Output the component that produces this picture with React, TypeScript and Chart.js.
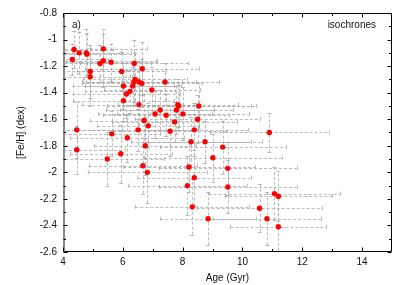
import React, { useEffect, useRef } from 'react';
import { Chart, registerables } from 'chart.js';
Chart.register(...registerables);

const ages = [
  4.37, 4.54, 4.78, 4.80, 4.31, 5.35, 5.24, 5.35, 5.61, 4.91, 4.91, 5.96, 6.38, 6.65,
  6.02, 6.37, 6.41, 6.54, 6.64, 6.33, 6.24, 6.12, 6.02, 6.54, 6.97, 7.41, 7.84, 7.87,
  7.25, 7.08, 7.45, 7.79, 8.01, 8.54, 8.50, 6.71, 6.85, 6.51, 7.58, 7.73, 8.39, 4.46,
  5.63, 6.15, 6.75, 8.28, 8.75, 9.34, 10.90, 4.46, 5.93, 5.48, 9.01, 6.67, 6.82, 8.21,
  9.51, 8.39, 8.16, 9.51, 8.32, 8.85, 10.57, 10.82, 11.07, 11.20, 11.20,
];
const feh = [
  -1.075, -1.10, -1.10, -1.11, -1.15, -1.07, -1.18, -1.16, -1.17, -1.24, -1.28, -1.24, -1.18, -1.22,
  -1.35, -1.32, -1.30, -1.32, -1.33, -1.35, -1.39, -1.41, -1.46, -1.49, -1.38, -1.32, -1.49, -1.50,
  -1.53, -1.56, -1.57, -1.53, -1.56, -1.50, -1.60, -1.61, -1.65, -1.68, -1.69, -1.62, -1.68, -1.68,
  -1.71, -1.74, -1.80, -1.77, -1.77, -1.81, -1.70, -1.83, -1.86, -1.90, -1.89, -1.95, -2.00, -1.96,
  -1.97, -2.04, -2.10, -2.11, -2.26, -2.35, -2.27, -2.35, -2.16, -2.18, -2.41,
];
const ageErr = [
  1.3, 1.4, 1.5, 1.6, 1.2, 1.45, 1.7, 1.8, 1.5, 1.6, 1.4, 1.5, 1.8, 1.9,
  1.7, 1.6, 1.75, 1.9, 2.0, 1.6, 1.5, 1.8, 1.7, 1.9, 1.6, 1.8, 2.0, 2.4,
  1.8, 1.9, 2.1, 1.9, 2.2, 1.9, 2.1, 1.8, 1.7, 2.0, 1.9, 2.1, 1.8, 1.5,
  1.6, 1.9, 1.7, 2.0, 1.9, 2.1, 2.0, 1.6, 1.7, 1.9, 2.3, 1.8, 2.0, 2.2,
  2.3, 1.9, 2.0, 2.3, 1.9, 1.6, 2.1, 1.8, 2.2, 1.8, 1.6,
];
const fehErr = [
  0.14, 0.16, 0.18, 0.16, 0.12, 0.15, 0.14, 0.2, 0.14, 0.2, 0.22, 0.15, 0.18, 0.2,
  0.17, 0.15, 0.2, 0.16, 0.18, 0.14, 0.16, 0.18, 0.15, 0.2, 0.17, 0.14, 0.19, 0.16,
  0.15, 0.18, 0.16, 0.18, 0.2, 0.17, 0.18, 0.2, 0.17, 0.16, 0.19, 0.15, 0.2, 0.21,
  0.17, 0.18, 0.22, 0.19, 0.16, 0.2, 0.15, 0.18, 0.22, 0.2, 0.18, 0.21, 0.23, 0.19,
  0.2, 0.21, 0.22, 0.2, 0.21, 0.2, 0.18, 0.2, 0.2, 0.19, 0.22,
];

const xTickValues = [4, 6, 8, 10, 12, 14];
const xMinorValues = [5, 7, 9, 11, 13];
const yTickValues = [-0.8, -1, -1.2, -1.4, -1.6, -1.8, -2, -2.2, -2.4, -2.6];
const yTickLabels = ['-0.8', '-1', '-1.2', '-1.4', '-1.6', '-1.8', '-2', '-2.2', '-2.4', '-2.6'];
const yMinorValues = [-0.9, -1.1, -1.3, -1.5, -1.7, -1.9, -2.1, -2.3, -2.5];

const FONT = 'Liberation Sans, Arial, sans-serif';

const errorBarPlugin = {
  id: 'errorBars',
  beforeDatasetsDraw(chart: any) {
    const { ctx, chartArea, scales } = chart;
    const xs = scales.x;
    const ys = scales.y;
    ctx.save();
    ctx.beginPath();
    ctx.rect(chartArea.left, chartArea.top, chartArea.right - chartArea.left, chartArea.bottom - chartArea.top);
    ctx.clip();
    ctx.strokeStyle = 'rgba(165,165,165,0.75)';
    ctx.lineWidth = 1;
    const cap = 2;
    for (let i = 0; i < ages.length; i++) {
      const px = xs.getPixelForValue(ages[i]);
      const py = ys.getPixelForValue(feh[i]);
      const x0 = xs.getPixelForValue(ages[i] - ageErr[i]);
      const x1 = xs.getPixelForValue(ages[i] + ageErr[i]);
      const y0 = ys.getPixelForValue(feh[i] - fehErr[i]);
      const y1 = ys.getPixelForValue(feh[i] + fehErr[i]);
      ctx.setLineDash([3, 2]);
      ctx.beginPath();
      ctx.moveTo(x0, Math.round(py) + 0.5);
      ctx.lineTo(x1, Math.round(py) + 0.5);
      ctx.moveTo(Math.round(px) + 0.5, y0);
      ctx.lineTo(Math.round(px) + 0.5, y1);
      ctx.stroke();
      ctx.setLineDash([]);
      ctx.beginPath();
      ctx.moveTo(Math.round(x0) + 0.5, py - cap);
      ctx.lineTo(Math.round(x0) + 0.5, py + cap);
      ctx.moveTo(Math.round(x1) + 0.5, py - cap);
      ctx.lineTo(Math.round(x1) + 0.5, py + cap);
      ctx.moveTo(px - cap, Math.round(y0) + 0.5);
      ctx.lineTo(px + cap, Math.round(y0) + 0.5);
      ctx.moveTo(px - cap, Math.round(y1) + 0.5);
      ctx.lineTo(px + cap, Math.round(y1) + 0.5);
      ctx.stroke();
    }
    ctx.restore();
  },
};

const framePlugin = {
  id: 'frame',
  afterDraw(chart: any) {
    const { ctx, chartArea, scales } = chart;
    const { left, right, top, bottom } = chartArea;
    const xs = scales.x;
    const ys = scales.y;
    ctx.save();
    ctx.strokeStyle = '#000';
    ctx.lineWidth = 1;
    const L = Math.round(left) + 0.5;
    const R = Math.round(right) - 0.5;
    const T = Math.round(top) + 0.5;
    const B = Math.round(bottom) - 0.5;
    ctx.beginPath();
    ctx.moveTo(L, T);
    ctx.lineTo(R, T);
    ctx.lineTo(R, B);
    ctx.lineTo(L, B);
    ctx.stroke();
    ctx.strokeStyle = '#888';
    ctx.lineWidth = 2;
    ctx.beginPath();
    ctx.moveTo(Math.round(left) + 1, T);
    ctx.lineTo(Math.round(left) + 1, B);
    ctx.stroke();
    ctx.strokeStyle = '#000';
    ctx.lineWidth = 1;
    const major = 4;
    const minor = 2.5;
    ctx.beginPath();
    const xt = (v: number, len: number) => {
      const p = Math.round(xs.getPixelForValue(v)) + 0.5;
      ctx.moveTo(p, B);
      ctx.lineTo(p, B - len);
      ctx.moveTo(p, T);
      ctx.lineTo(p, T + len);
    };
    const yt = (v: number, len: number) => {
      const p = Math.round(ys.getPixelForValue(v)) + 0.5;
      ctx.moveTo(L, p);
      ctx.lineTo(L + len, p);
      ctx.moveTo(R, p);
      ctx.lineTo(R - len, p);
    };
    xTickValues.forEach((v) => xt(v, major));
    xMinorValues.forEach((v) => xt(v, minor));
    yTickValues.forEach((v) => yt(v, major));
    yMinorValues.forEach((v) => yt(v, minor));
    ctx.stroke();
    ctx.fillStyle = '#111';
    ctx.font = `10px ${FONT}`;
    ctx.textBaseline = 'middle';
    ctx.textAlign = 'left';
    ctx.fillText('a)', 72, 25);
    ctx.textAlign = 'right';
    ctx.fillText('isochrones', 376, 25);
    ctx.restore();
  },
};

export default function App() {
  const ref = useRef<HTMLCanvasElement | null>(null);
  useEffect(() => {
    if (!ref.current) return;
    const points = ages.map((a, i) => ({ x: a, y: feh[i] }));
    const chart = new Chart(ref.current, {
      type: 'scatter',
      data: {
        datasets: [
          {
            data: points,
            pointRadius: 2.7,
            pointHoverRadius: 2.7,
            backgroundColor: '#ff0000',
            borderWidth: 0,
          },
        ],
      },
      options: {
        animation: false,
        responsive: false,
        events: [],
        layout: { padding: { left: 11, right: 15, top: 13, bottom: 0 } },
        plugins: { legend: { display: false }, tooltip: { enabled: false } },
        scales: {
          x: {
            type: 'linear',
            min: 4,
            max: 15,
            grid: { display: false, drawTicks: false },
            border: { display: false },
            afterBuildTicks: (s: any) => {
              s.ticks = xTickValues.map((v) => ({ value: v }));
            },
            afterFit: (s: any) => {
              s.height = 33;
            },
            ticks: {
              padding: 4,
              color: '#111',
              font: { family: FONT, size: 10 },
              callback: (v: any) => String(v),
            },
            title: {
              display: true,
              text: 'Age (Gyr)',
              color: '#111',
              font: { family: FONT, size: 10 },
              padding: { top: 0, bottom: 1 },
            },
          },
          y: {
            type: 'linear',
            min: -2.6,
            max: -0.8,
            grid: { display: false, drawTicks: false },
            border: { display: false },
            afterBuildTicks: (s: any) => {
              s.ticks = yTickValues.map((v) => ({ value: v }));
            },
            afterFit: (s: any) => {
              s.width = 52;
            },
            ticks: {
              padding: 6,
              color: '#111',
              font: { family: FONT, size: 10 },
              callback: (v: any) => {
                const idx = yTickValues.findIndex((t) => Math.abs(t - v) < 1e-6);
                return idx >= 0 ? yTickLabels[idx] : '';
              },
            },
            title: {
              display: true,
              text: '[Fe/H] (dex)',
              color: '#111',
              font: { family: FONT, size: 10 },
              padding: { top: 4, bottom: 0 },
            },
          },
        },
      },
      plugins: [errorBarPlugin, framePlugin],
    } as any);
    return () => chart.destroy();
  }, []);
  return (
    <div style={{ position: 'absolute', left: 0, top: 0, width: 407, height: 285, background: '#fff' }}>
      <canvas ref={ref} width={407} height={285} style={{ display: 'block' }} />
    </div>
  );
}
